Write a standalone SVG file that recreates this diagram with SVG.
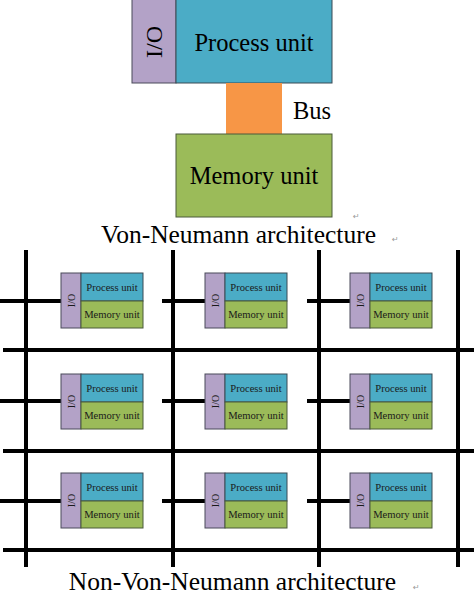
<svg xmlns="http://www.w3.org/2000/svg" width="474" height="596" viewBox="0 0 474 596">
<style>
.io{fill:#B3A2C7;stroke:#4a4a5a;stroke-width:1}
.pu{fill:#4BACC6;stroke:#3a4a55;stroke-width:1}
.mu{fill:#9BBB59;stroke:#4a5a3a;stroke-width:1}
.bus{fill:#F79646}
.t{font-family:"Liberation Serif","Times New Roman",serif;fill:#000}
.st{font-family:"Liberation Serif","Times New Roman",serif;font-size:10.6px;fill:#1a1a1a;text-anchor:middle}
.ln{stroke:#000;stroke-width:4;fill:none}
.mk{font-family:"DejaVu Sans",sans-serif;font-size:8px;fill:#999}
</style>
<defs>
<g id="cell">
<rect class="io" x="0" y="0" width="20" height="55"/>
<rect class="pu" x="20" y="0" width="62" height="28"/>
<rect class="mu" x="20" y="28" width="62" height="27"/>
<text class="st" transform="translate(14,27.5) rotate(-90)" style="font-size:10px">I/O</text>
<text class="st" x="51" y="18">Process unit</text>
<text class="st" x="51" y="45">Memory unit</text>
</g>
</defs>
<rect width="474" height="596" fill="#fff"/>

<g id="vonneumann">
<g id="io-top"><rect class="io" x="132" y="-1" width="44" height="84"/>
<text class="t" font-size="24" text-anchor="middle" transform="translate(162,42) rotate(-90)">I/O</text></g>
<g id="process-top"><rect class="pu" x="176" y="-1" width="156" height="84"/>
<text class="t" font-size="24.5" x="254" y="51" text-anchor="middle">Process unit</text></g>
<g id="bus"><rect class="bus" x="226" y="83" width="56" height="51"/>
<text class="t" font-size="24.5" x="293" y="119">Bus</text></g>
<g id="memory-top"><rect class="mu" x="176" y="134" width="156" height="83"/>
<text class="t" font-size="24.5" x="254" y="184" text-anchor="middle">Memory unit</text></g>
<text class="t" font-size="25.5" x="238.5" y="243" text-anchor="middle">Von-Neumann architecture</text>
<text class="mk" x="353" y="219">↵</text>
<text class="mk" x="392" y="242">↵</text>
</g>

<g id="connectors">
<line class="ln" x1="26" y1="250" x2="26" y2="567"/>
<line class="ln" x1="173" y1="250" x2="173" y2="567"/>
<line class="ln" x1="319" y1="250" x2="319" y2="567"/>
<line class="ln" x1="458" y1="250" x2="458" y2="567"/>
<line class="ln" x1="3" y1="350" x2="474" y2="350"/>
<line class="ln" x1="3" y1="451" x2="474" y2="451"/>
<line class="ln" x1="3" y1="550" x2="474" y2="550"/>
<line class="ln" x1="0" y1="301" x2="62" y2="301"/>
<line class="ln" x1="162" y1="301" x2="206" y2="301"/>
<line class="ln" x1="307" y1="301" x2="351" y2="301"/>
<line class="ln" x1="0" y1="401" x2="62" y2="401"/>
<line class="ln" x1="162" y1="401" x2="206" y2="401"/>
<line class="ln" x1="307" y1="401" x2="351" y2="401"/>
<line class="ln" x1="0" y1="501" x2="62" y2="501"/>
<line class="ln" x1="162" y1="501" x2="206" y2="501"/>
<line class="ln" x1="307" y1="501" x2="351" y2="501"/>
</g>

<g id="cell-1-1"><use href="#cell" x="61" y="273"/></g>
<g id="cell-1-2"><use href="#cell" x="205" y="273"/></g>
<g id="cell-1-3"><use href="#cell" x="350" y="273"/></g>
<g id="cell-2-1"><use href="#cell" x="61" y="374"/></g>
<g id="cell-2-2"><use href="#cell" x="205" y="374"/></g>
<g id="cell-2-3"><use href="#cell" x="350" y="374"/></g>
<g id="cell-3-1"><use href="#cell" x="61" y="473"/></g>
<g id="cell-3-2"><use href="#cell" x="205" y="473"/></g>
<g id="cell-3-3"><use href="#cell" x="350" y="473"/></g>

<text class="t" font-size="25.5" x="232.5" y="590" text-anchor="middle">Non-Von-Neumann architecture</text>
<text class="mk" x="413" y="590">↵</text>
</svg>
